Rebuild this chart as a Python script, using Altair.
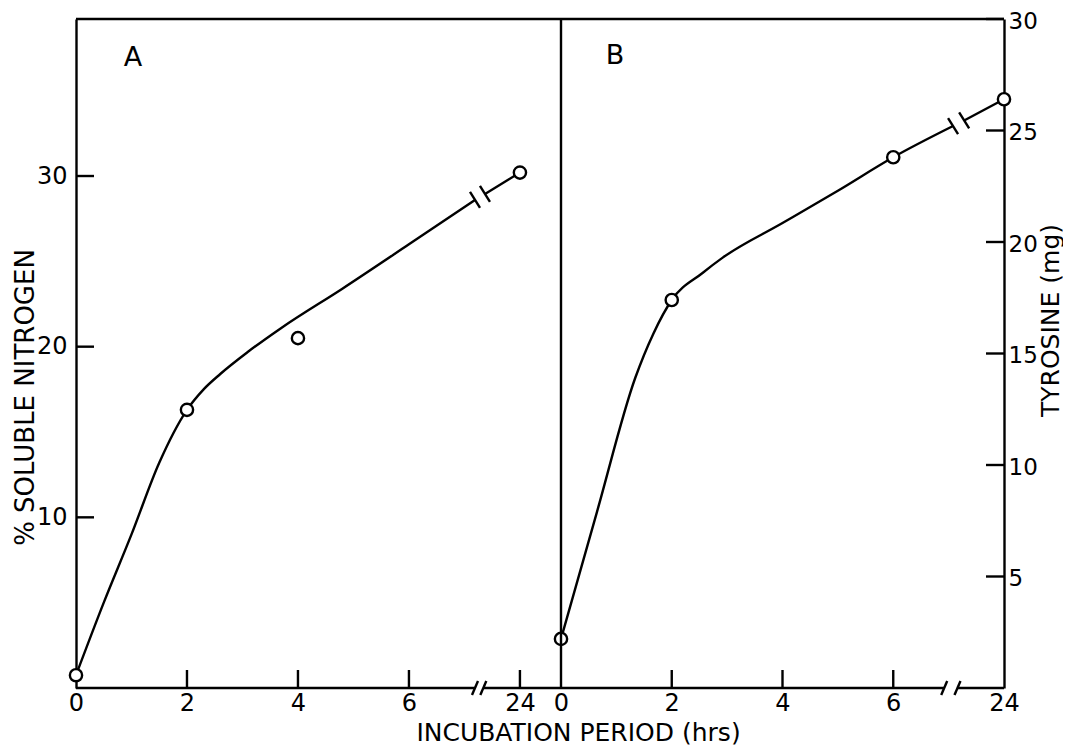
import altair as alt
import pandas as pd

# ---------------- data ----------------
tick_positions = [0, 2, 4, 6, 8]          # axis positions (8 = the "24 h" slot after the break)
tick_labels = ["0", "2", "4", "6", "24"]
inner_x_ticks_a = [2, 4, 6, 8]
inner_x_ticks_b = [2, 4, 6]

# Panel A : % soluble nitrogen
a_pos = [0, 2, 4, 8]                      # 0, 2, 4, 24 h
a_nitrogen = [0.75, 16.3, 20.5, 30.2]
a_curve_pos = [0, 0.5, 1.0, 1.5, 2.0, 2.3, 2.6, 3.1, 3.7, 4.8, 6.0, 7.19]
a_curve_val = [0.75, 5.0, 9.0, 13.2, 16.3, 17.5, 18.4, 19.7, 21.1, 23.4, 26.0, 28.6]
a_curve2_pos = [7.37, 8.0]
a_curve2_val = [28.95, 30.2]
a_curve_break_pos = [7.19, 7.37]
a_curve_break_val = [28.6, 28.95]
a_axis_seg_start = [0, 7.34]
a_axis_seg_end = [7.19, 8.74]
a_axis_break = [7.19, 7.34]
a_y_ticks = [10, 20, 30]

# Panel B : tyrosine (mg)
b_pos = [0, 2, 6, 8]                      # 0, 2, 6, 24 h
b_tyrosine = [2.2, 17.4, 23.8, 26.4]
b_curve_pos = [0, 0.65, 1.34, 1.67, 2.0, 2.55, 2.92, 4.0, 5.0, 6.0, 7.08]
b_curve_val = [2.2, 7.9, 13.9, 15.9, 17.4, 18.6, 19.3, 20.85, 22.3, 23.8, 25.2]
b_curve2_pos = [7.28, 8.0]
b_curve2_val = [25.45, 26.4]
b_curve_break_pos = [7.08, 7.28]
b_curve_break_val = [25.2, 25.45]
b_axis_seg_start = [0, 7.16]
b_axis_seg_end = [6.92, 8.0]
b_axis_break = [6.92, 7.16]
b_y_ticks = [5, 10, 15, 20, 25, 30]

# ---------------- layout ----------------
W_A, W_B, H = 485, 443, 669
FONT = "DejaVu Sans"
LW = 2.4
TICK = 18
LABEL_FS = 24
TITLE_FS = 25

label_expr = "datum.value == 8 ? '24' : format(datum.value, 'd')"


def panel(pos, val, cpos, cval, c2pos, c2val, brk_pos, brk_val, seg_s, seg_e,
          axis_brk, y_ticks, x_ticks, x_dom, y_dom, W, side, letter, letter_x, letter_y):
    xs = alt.Scale(domain=x_dom, nice=False, zero=False)
    ys = alt.Scale(domain=y_dom, nice=False, zero=False)

    common_x = dict(values=tick_positions, labelExpr=label_expr, ticks=False,
                    tickSize=0, domain=False, grid=False, labelFont=FONT,
                    labelFontSize=LABEL_FS, labelColor="black", labelPadding=22,
                    labelBaseline="alphabetic", labelFlush=False, labelOverlap=False)
    if side == "left":
        yaxis = alt.Axis(values=y_ticks, orient="left", ticks=False, tickSize=0,
                         domain=True, domainColor="black", domainWidth=LW, grid=False,
                         labelFont=FONT, labelFontSize=LABEL_FS, labelColor="black",
                         labelPadding=9, labelFlush=False, labelOverlap=False,
                         format="d",
                         title="% SOLUBLE NITROGEN", titleFont=FONT, titleFontSize=26,
                         titleFontWeight="normal", titleColor="black", titleAngle=270,
                         titleBaseline="alphabetic", titleAlign="center",
                         titleX=-43, titleY=378)
        xaxis = alt.Axis(title="INCUBATION PERIOD (hrs)", titleFont=FONT,
                         titleFontSize=TITLE_FS, titleFontWeight="normal",
                         titleColor="black", titleBaseline="alphabetic",
                         titleAlign="center", titleX=502, titleY=52, **common_x)
    else:
        yaxis = alt.Axis(values=y_ticks, orient="right", ticks=False, tickSize=0,
                         domain=True, domainColor="black", domainWidth=LW, grid=False,
                         labelFont=FONT, labelFontSize=23, labelColor="black",
                         labelPadding=4, labelOffset=2, labelFlush=False,
                         labelOverlap=False, format="d",
                         title="TYROSINE (mg)", titleFont=FONT, titleFontSize=25,
                         titleFontWeight="normal", titleColor="black", titleAngle=270,
                         titleBaseline="alphabetic", titleAlign="center",
                         titleX=54, titleY=301)
        xaxis = alt.Axis(title="", **common_x)

    one = pd.DataFrame({"k": [0]})

    curve = pd.DataFrame({"p": cpos + c2pos, "v": cval + c2val,
                          "seg": [0] * len(cpos) + [1] * len(c2pos)})
    pts = pd.DataFrame({"p": pos, "v": val})
    brk = pd.DataFrame({"p": brk_pos, "v": brk_val})
    segs = pd.DataFrame({"p": seg_s, "e": seg_e})
    abrk = pd.DataFrame({"p": axis_brk})
    yt = pd.DataFrame({"v": y_ticks})
    xt = pd.DataFrame({"p": x_ticks})

    X = lambda: alt.X("p:Q", scale=xs)
    Y = lambda: alt.Y("v:Q", scale=ys)

    line = alt.Chart(curve).mark_line(color="black", strokeWidth=LW,
                                      interpolate="monotone").encode(
        x=alt.X("p:Q", scale=xs, axis=xaxis),
        y=alt.Y("v:Q", scale=ys, axis=yaxis),
        detail="seg:N")

    points = alt.Chart(pts).mark_point(shape="circle", filled=True, fill="white",
                                       stroke="black", strokeWidth=LW, size=150,
                                       opacity=1).encode(x=X(), y=Y())

    slashes = alt.Chart(brk).mark_rule(color="black", strokeWidth=LW,
                                       xOffset=-5, x2Offset=5,
                                       yOffset=-8, y2Offset=8).encode(
        x=X(), x2="p:Q", y=Y(), y2="v:Q")

    bottom = alt.Chart(segs).mark_rule(color="black", strokeWidth=LW).encode(
        x=X(), x2="e:Q", y=alt.value(H))

    axis_slashes = alt.Chart(abrk).mark_rule(color="black", strokeWidth=LW,
                                             xOffset=-3, x2Offset=3,
                                             yOffset=7, y2Offset=-7).encode(
        x=X(), x2="p:Q", y=alt.value(H), y2=alt.value(H))

    xticks = alt.Chart(xt).mark_rule(color="black", strokeWidth=LW).encode(
        x=X(), y=alt.value(H - TICK), y2=alt.value(H))

    if side == "left":
        yticks = alt.Chart(yt).mark_rule(color="black", strokeWidth=LW).encode(
            y=Y(), x=alt.value(0), x2=alt.value(TICK))
    else:
        yticks = alt.Chart(yt).mark_rule(color="black", strokeWidth=LW).encode(
            y=Y(), x=alt.value(W - TICK), x2=alt.value(W))

    top = alt.Chart(one).mark_rule(color="black", strokeWidth=LW).encode(
        x=alt.value(0), x2=alt.value(W), y=alt.value(0))

    layers = [line, points, slashes, bottom, axis_slashes, xticks, yticks, top]

    if side == "right":
        divider = alt.Chart(one).mark_rule(color="black", strokeWidth=LW).encode(
            x=alt.value(0), y=alt.value(0), y2=alt.value(H))
        layers.append(divider)

    letter_mark = alt.Chart(one).mark_text(font=FONT, fontSize=27, color="black",
                                           align="center", baseline="alphabetic",
                                           text=letter).encode(
        x=alt.value(letter_x), y=alt.value(letter_y))
    layers.append(letter_mark)

    return alt.layer(*layers).properties(width=W, height=H)


panel_a = panel(a_pos, a_nitrogen, a_curve_pos, a_curve_val, a_curve2_pos, a_curve2_val,
                a_curve_break_pos, a_curve_break_val, a_axis_seg_start, a_axis_seg_end,
                a_axis_break, a_y_ticks, inner_x_ticks_a, [0, 8.74], [0, 39.2],
                W_A, "left", "A", 57, 47)

panel_b = panel(b_pos, b_tyrosine, b_curve_pos, b_curve_val, b_curve2_pos, b_curve2_val,
                b_curve_break_pos, b_curve_break_val, b_axis_seg_start, b_axis_seg_end,
                b_axis_break, b_y_ticks, inner_x_ticks_b, [0, 8], [0, 30],
                W_B, "right", "B", 54, 45)

chart = alt.hconcat(panel_a, panel_b, spacing=0, bounds="flush").properties(
    padding={"left": 4, "top": 2, "right": 0, "bottom": 0},
    background="white",
).configure_view(stroke=None)

chart.save("out.html", embed_options={"renderer": "svg", "actions": False})
